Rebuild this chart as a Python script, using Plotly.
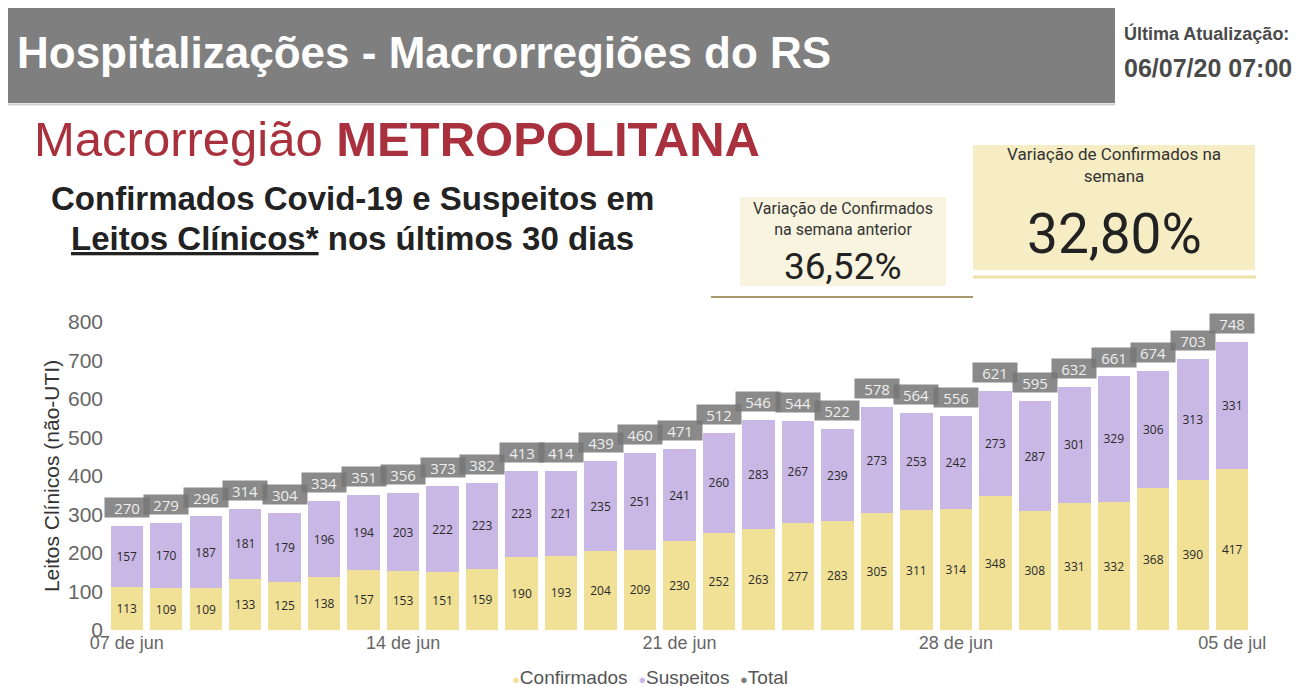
import plotly.graph_objects as go

dates = ["2020-06-07", "2020-06-08", "2020-06-09", "2020-06-10", "2020-06-11", "2020-06-12",
         "2020-06-13", "2020-06-14", "2020-06-15", "2020-06-16", "2020-06-17", "2020-06-18",
         "2020-06-19", "2020-06-20", "2020-06-21", "2020-06-22", "2020-06-23", "2020-06-24",
         "2020-06-25", "2020-06-26", "2020-06-27", "2020-06-28", "2020-06-29", "2020-06-30",
         "2020-07-01", "2020-07-02", "2020-07-03", "2020-07-04", "2020-07-05"]
confirmados = [113, 109, 109, 133, 125, 138, 157, 153, 151, 159, 190, 193, 204, 209, 230,
               252, 263, 277, 283, 305, 311, 314, 348, 308, 331, 332, 368, 390, 417]
suspeitos = [157, 170, 187, 181, 179, 196, 194, 203, 222, 223, 223, 221, 235, 251, 241,
             260, 283, 267, 239, 273, 253, 242, 273, 287, 301, 329, 306, 313, 331]
totais = [270, 279, 296, 314, 304, 334, 351, 356, 373, 382, 413, 414, 439, 460, 471,
          512, 546, 544, 522, 578, 564, 556, 621, 595, 632, 661, 674, 703, 748]
tick_vals = ["2020-06-07", "2020-06-14", "2020-06-21", "2020-06-28", "2020-07-05"]
tick_text = ["07 de jun", "14 de jun", "21 de jun", "28 de jun", "05 de jul"]
legend_names = ["Confirmados", "Suspeitos", "Total"]

# page body has an 8px margin: figure pixel = window pixel - 8
OFF = 8
W, H = 1302 - OFF, 686 - OFF
L, T = 107 - OFF, 322 - OFF
R = W - (1252 - OFF)
B = H - (630 - OFF)
PW = W - L - R
PH = H - T - B


def px(x):
    return (x - OFF - L) / PW


def py(y):
    return (H - B - (y - OFF)) / PH


C_CONF = "#f0e197"
C_SUSP = "#c9b8e6"
C_TOT = "#7f7f7f"
colors = [C_CONF, C_SUSP, C_TOT]

fig = go.Figure()
fig.add_trace(go.Bar(x=dates, y=confirmados, name=legend_names[0], marker_color=C_CONF,
                     marker_line_width=0, text=confirmados, textposition="inside",
                     insidetextanchor="middle", textangle=0,
                     textfont=dict(size=12, color="#2a2a2a", family="Open Sans"),
                     showlegend=False))
fig.add_trace(go.Bar(x=dates, y=suspeitos, name=legend_names[1], marker_color=C_SUSP,
                     marker_line_width=0, text=suspeitos, textposition="inside",
                     insidetextanchor="middle", textangle=0,
                     textfont=dict(size=12, color="#2a2a2a", family="Open Sans"),
                     showlegend=False))

# total label boxes
for d, t in zip(dates, totais):
    fig.add_annotation(x=d, y=t, text=str(t), showarrow=False, yanchor="bottom", yshift=8,
                       bgcolor="rgba(118,118,118,0.85)", width=40, height=15, borderpad=2,
                       font=dict(size=15, color="#eeeeee", family="Open Sans"))

fig.update_layout(
    barmode="stack", bargap=0.18,
    width=W, height=H,
    margin=dict(l=L, r=R, t=T, b=B, autoexpand=False),
    paper_bgcolor="white", plot_bgcolor="white",
    font=dict(family="Liberation Sans", color="#555555"),
    showlegend=False,
    xaxis=dict(type="date", range=["2020-06-06 12:00", "2020-07-05 12:00"],
               tickvals=tick_vals, ticktext=tick_text, showgrid=False, zeroline=False,
               showline=False, ticks="", tickfont=dict(size=18, color="#666666")),
    yaxis=dict(range=[0, 800], dtick=100, showgrid=False, zeroline=False, showline=False,
               tickfont=dict(size=21, color="#666666"), ticklabelstandoff=3,
               title=dict(text="Leitos Clínicos (não-UTI)", font=dict(size=21, color="#333333"),
                          standoff=2)),
)

shapes = []
# header bar
shapes.append(dict(type="rect", xref="paper", yref="paper", x0=px(5), x1=px(1115), y0=py(103),
                   y1=py(8), fillcolor="#7f7f7f", line_width=0, layer="below"))
shapes.append(dict(type="line", xref="paper", yref="paper", x0=px(5), x1=px(1115), y0=py(104.5),
                   y1=py(104.5), line=dict(color="#d0d0d0", width=2)))
# small box
shapes.append(dict(type="rect", xref="paper", yref="paper", x0=px(740), x1=px(946), y0=py(286),
                   y1=py(197), fillcolor="#f8f4e0", line_width=0, layer="below"))
shapes.append(dict(type="line", xref="paper", yref="paper", x0=px(711), x1=px(973), y0=py(297),
                   y1=py(297), line=dict(color="#a8996a", width=2)))
# big box
shapes.append(dict(type="rect", xref="paper", yref="paper", x0=px(973), x1=px(1255), y0=py(270),
                   y1=py(145), fillcolor="#f6edc4", line_width=0, layer="below"))
shapes.append(dict(type="line", xref="paper", yref="paper", x0=px(973), x1=px(1256), y0=py(277),
                   y1=py(277), line=dict(color="#efe2a6", width=3)))
fig.update_layout(shapes=shapes)


def txt(x, y, s, size, color, family="Liberation Sans", xanchor="left"):
    fig.add_annotation(xref="paper", yref="paper", x=px(x), y=py(y), text=s, showarrow=False,
                       xanchor=xanchor, yanchor="middle",
                       font=dict(size=size, color=color, family=family))


txt(15, 52, "<b>Hospitalizações - Macrorregiões do RS</b>", 44, "white")
txt(1122, 33, "<b>Última Atualização:</b>", 18, "#4a4a4a")
txt(1122, 68, "<b>06/07/20 07:00</b>", 25, "#4a4a4a")
txt(32, 139, "Macrorregião <b>METROPOLITANA</b>", 49, "#a8313d")
txt(352, 198, "<b>Confirmados Covid-19 e Suspeitos em</b>", 33, "#222222", xanchor="center")
txt(352, 238, "<b><u>Leitos Clínicos*</u> nos últimos 30 dias</b>", 33, "#222222", xanchor="center")
txt(843, 219, "Variação de Confirmados<br>na semana anterior", 16, "#333333", "Roboto", "center")
txt(843, 266, "36,52%", 37, "#222222", "Roboto", "center")
txt(1114, 165, "Variação de Confirmados na<br>semana", 17, "#333333", "Roboto", "center")
txt(1114, 234, "32,80%", 55, "#222222", "Roboto", "center")

# legend row (dot + label), partly cut by the bottom edge as in the source
legend_text = "&nbsp;&nbsp;".join(
    f"<span style='color:{c};font-size:13px'>●</span>{n}" for n, c in zip(legend_names, colors))
txt(650, 677, legend_text, 19, "#555555", xanchor="center")

fig.write_html("out.html")
